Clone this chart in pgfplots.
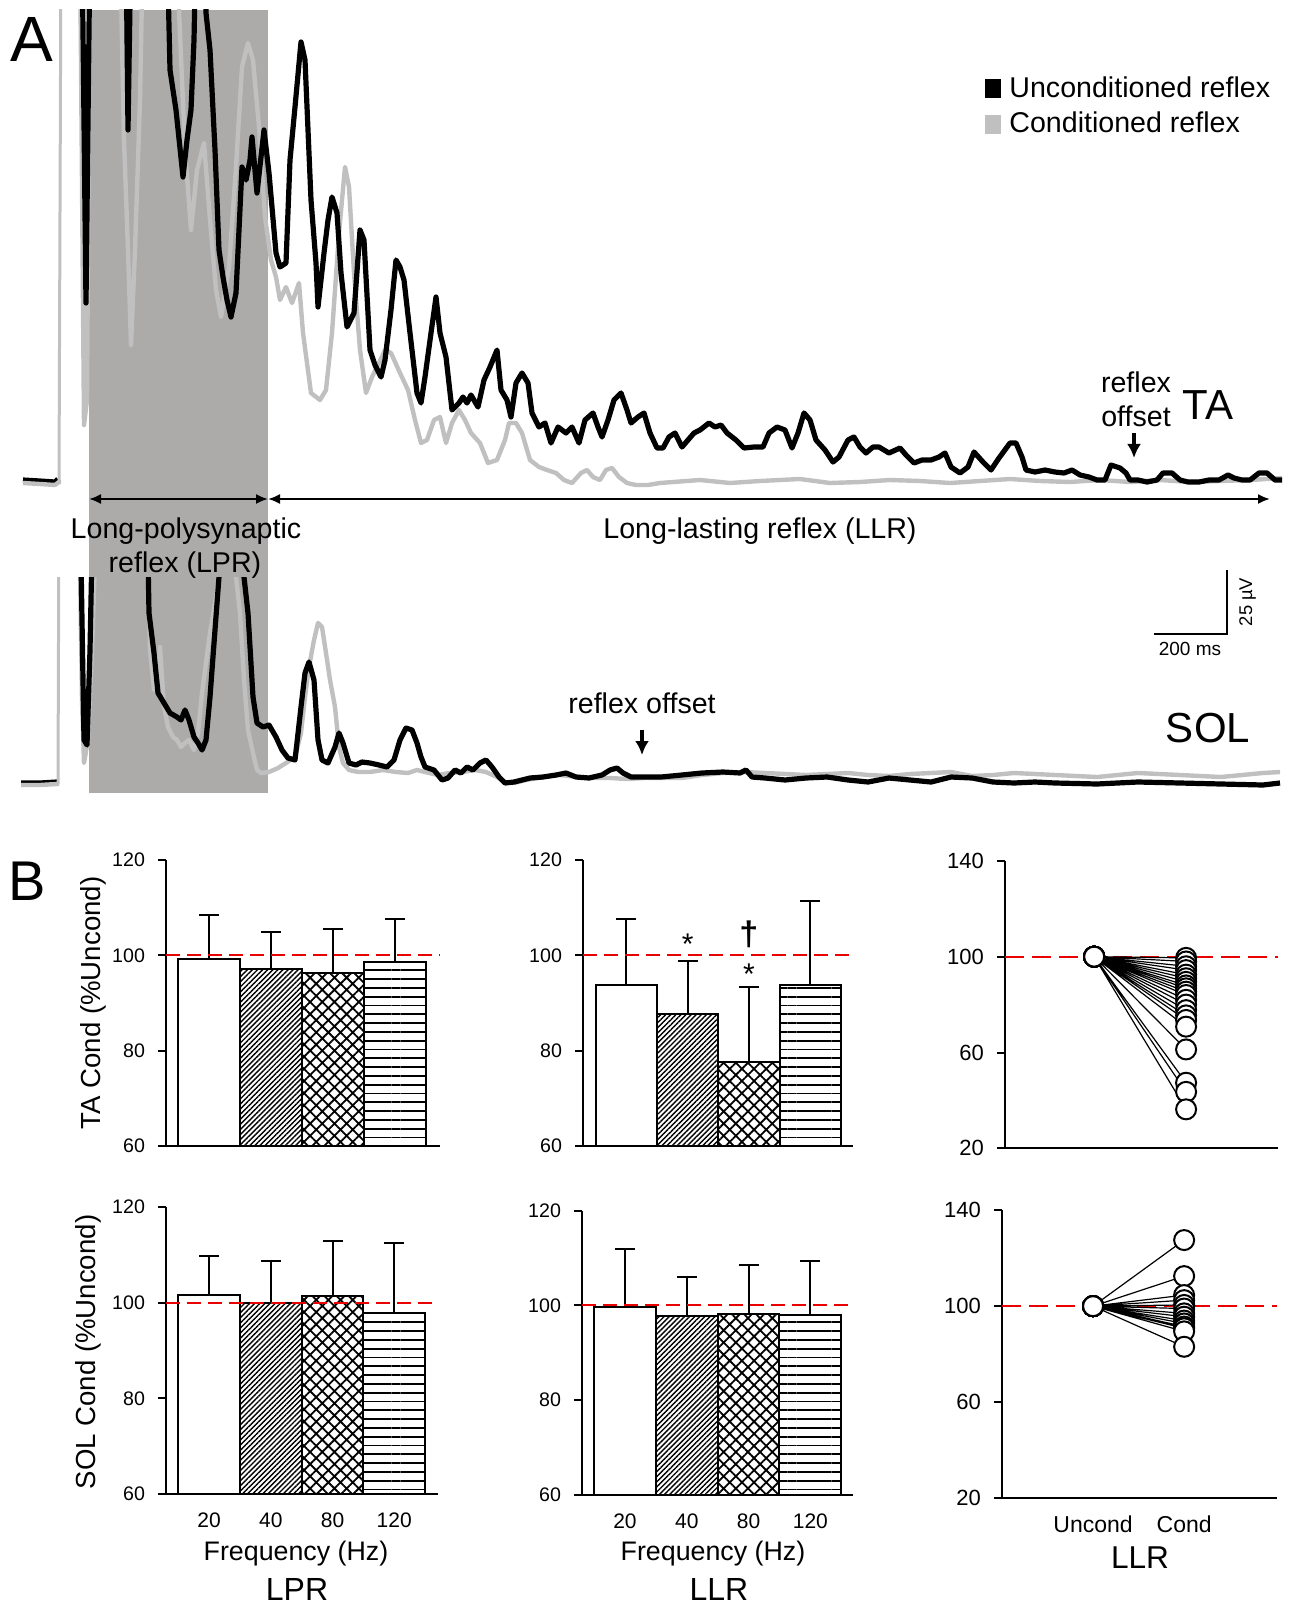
\documentclass[border=0pt]{standalone}
\usepackage{fontspec}
\setmainfont{Liberation Sans}
\usepackage{pgfplots}
\pgfplotsset{compat=1.18}
\usetikzlibrary{arrows.meta,patterns.meta}

\definecolor{condgray}{RGB}{192,192,192}
\definecolor{lprshade}{RGB}{173,170,170}
\definecolor{refred}{RGB}{235,0,0}
\newcommand\fs[1]{\fontsize{#1}{#1}\selectfont}

\pgfplotsset{
  trace/.style={scale only axis, width=645.5pt, xmin=0, xmax=1291, y dir=reverse, hide axis, anchor=center, unbounded coords=jump},
  uncond/.style={black, line width=2.6pt, line join=round},
  cond/.style={condgray, line width=2.2pt, line join=round},
  artifact/.style={condgray, line width=1.5pt},
  panel/.style={scale only axis, anchor=south west, axis lines=left, axis line style={-, line width=1pt},
    tick align=outside, major tick length=4pt, tick style={black, line width=1pt},
    xtick=\empty, /pgf/number format/assume math mode=true},
  barpanel/.style={panel, ymin=60, ymax=120, ytick={60,80,100,120}, yticklabel style={font=\fs{9.8}, xshift=-3pt}},
  indpanel/.style={panel, ymin=20, ymax=140, ytick={20,60,100,140}, yticklabel style={font=\fs{11}, xshift=-3pt}},
  freqticks/.style={xtick={1,2,3,4}, xticklabels={20,40,80,120}, xtick style={draw=none}, xticklabel style={font=\fs{10.5}, yshift=-2pt}},
  hzbar/.style={ybar, bar width=1, bar shift=0pt, draw=black, line width=1pt,
    error bars/y dir=plus, error bars/y explicit, error bars/error mark=|,
    error bars/error bar style={line width=1pt, black},
    error bars/error mark options={line width=1pt, black, mark size=5pt}},
  p20/.style={hzbar, fill=white},
  p40/.style={hzbar, pattern={Lines[angle=45,distance=1.8pt,line width=0.7pt]}},
  p80/.style={hzbar, pattern={Hatch[angle=45,distance=4.3pt,line width=0.9pt]}},
  p120/.style={hzbar, pattern={Lines[angle=0,distance=4.4pt,line width=0.9pt]}},
  line100/.style={refred, line width=1pt, dash pattern=on 7pt off 3.5pt},
  subj/.style={black, line width=0.6pt, unbounded coords=jump, mark=*, mark size=5pt,
    mark options={fill=white, draw=black, line width=1pt, solid}},
}

\begin{document}
\begin{tikzpicture}
\useasboundingbox (0,0) rectangle (645.5pt,-802pt);

\begin{scope}[x=0.5pt, y=-0.5pt]
  \fill[lprshade] (89,10) rectangle (268,793);
\end{scope}

% ---------- A: TA traces (pixel units, y downwards)
\begin{axis}[trace, height=245pt, ymin=10, ymax=500, at={(322.75pt,-127.5pt)}]
\addplot[uncond] coordinates {(23,480)(40,481)(55,482)(58,479)};
\addplot[artifact] coordinates {(59,482)(61,-60)};
\addplot[cond] coordinates {(23,483)(40,484)(55,485)(59,482)(61,482)(62,nan)(80,-60)(84,425)(87,400)(90,-60)(120,-60)(124,140)(128,250)(131,345)(135,250)(140,100)(143,-60)(176,-60)(185,150)(191,230)(197,170)(204,143)(210,220)(216,290)(221,317)(229,267)(236,167)(242,67)(248,43)(253,60)(259,127)(265,217)(271,260)(276,277)(280,300)(286,287)(292,303)(299,283)(303,333)(311,393)(320,400)(326,390)(332,333)(339,233)(345,167)(349,187)(354,273)(360,350)(366,393)(372,377)(379,363)(385,350)(391,353)(400,373)(408,390)(415,420)(421,443)(427,440)(434,420)(440,417)(446,443)(452,423)(459,410)(465,420)(471,433)(480,443)(488,463)(497,460)(505,440)(509,423)(516,423)(522,433)(530,460)(539,467)(547,470)(556,473)(564,480)(572,483)(581,473)(587,470)(593,477)(600,480)(606,470)(612,468)(619,477)(627,483)(636,485)(648,485)(660,483)(700,480)(730,483)(760,481)(800,479)(830,483)(860,482)(890,480)(920,481)(950,483)(980,481)(1010,479)(1040,481)(1070,482)(1100,480)(1130,482)(1160,480)(1190,482)(1220,481)(1250,480)(1282,478)};
\addplot[uncond] coordinates {(82,-60)(86,303)(90,-60)(126,-60)(128,130)(131,-60)(167,-60)(170,70)(176,110)(183,177)(187,140)(191,110)(194,40)(196,-60)(205,-60)(206,13)(210,50)(215,150)(219,250)(223,277)(227,300)(231,317)(236,293)(242,167)(246,180)(250,160)(252,137)(257,193)(264,130)(269,173)(276,253)(280,267)(286,263)(290,160)(295,107)(301,42)(305,60)(311,200)(316,263)(318,307)(324,253)(328,220)(332,197)(337,213)(341,273)(347,327)(354,313)(360,230)(364,240)(370,350)(375,365)(381,377)(385,360)(391,310)(396,260)(400,267)(404,280)(410,333)(417,393)(421,403)(425,377)(431,333)(436,297)(440,333)(446,357)(452,410)(459,403)(463,397)(467,403)(471,395)(478,407)(484,380)(490,367)(497,350)(501,390)(507,400)(511,417)(516,383)(522,373)(528,383)(532,413)(539,427)(545,423)(551,443)(558,427)(566,433)(572,427)(579,443)(585,420)(593,413)(598,427)(602,437)(608,420)(614,400)(621,393)(627,410)(631,423)(638,417)(644,413)(650,433)(657,448)(663,448)(669,437)(675,433)(682,447)(688,440)(694,433)(700,430)(709,423)(715,427)(721,425)(727,433)(736,440)(744,448)(754,447)(763,447)(769,433)(777,427)(785,430)(792,448)(798,433)(804,413)(810,420)(816,440)(825,450)(833,462)(839,457)(848,440)(854,437)(860,447)(866,453)(873,447)(879,447)(889,453)(900,448)(906,455)(914,463)(922,460)(931,460)(939,457)(945,453)(951,467)(960,473)(968,467)(974,452)(983,462)(991,470)(999,458)(1010,443)(1016,443)(1022,457)(1026,470)(1035,472)(1045,470)(1055,472)(1064,473)(1072,470)(1080,475)(1089,477)(1097,480)(1105,480)(1111,465)(1120,468)(1126,473)(1130,480)(1138,480)(1147,482)(1157,480)(1163,473)(1172,473)(1180,480)(1188,482)(1199,482)(1209,480)(1219,480)(1228,475)(1234,478)(1242,480)(1250,480)(1259,473)(1267,473)(1275,480)(1282,480)};
\end{axis}

% ---------- A: SOL traces
\begin{axis}[trace, height=111.5pt, ymin=577, ymax=800, at={(322.75pt,-344.25pt)}]
\addplot[uncond] coordinates {(21,783)(40,783)(57,782)};
\addplot[artifact] coordinates {(58,784)(59,500)};
\addplot[cond] coordinates {(21,785)(40,785)(57,784)(59,784)(60,nan)(79,500)(82,700)(84,763)(88,740)(92,650)(97,500)(147,500)(150,650)(154,690)(158,677)(160,647)(164,707)(168,727)(173,737)(177,740)(181,747)(185,743)(189,740)(194,750)(198,733)(202,693)(206,663)(210,633)(215,603)(219,580)(221,500)(234,500)(236,577)(240,613)(244,680)(248,730)(253,753)(257,770)(261,773)(269,772)(278,768)(286,763)(295,757)(301,733)(305,697)(309,667)(314,640)(318,623)(322,627)(326,653)(330,680)(335,707)(339,747)(343,763)(349,770)(358,772)(370,772)(383,770)(396,772)(408,773)(417,770)(425,772)(438,775)(450,773)(463,772)(475,770)(486,772)(497,777)(505,782)(514,783)(526,780)(543,777)(560,775)(577,777)(593,778)(610,778)(627,779)(644,778)(660,778)(682,778)(702,775)(723,773)(744,772)(765,773)(786,774)(806,775)(827,774)(848,773)(868,775)(889,776)(910,774)(931,773)(951,772)(972,776)(993,775)(1014,773)(1035,774)(1055,775)(1076,776)(1097,777)(1118,775)(1138,773)(1159,774)(1180,775)(1200,776)(1221,777)(1242,775)(1263,773)(1280,772)};
\addplot[uncond] coordinates {(80,500)(84,740)(87,745)(90,650)(93,500)(147,500)(149,613)(154,653)(158,693)(164,703)(170,713)(177,717)(181,720)(185,710)(189,720)(194,737)(198,743)(202,750)(206,740)(210,697)(215,630)(219,577)(221,500)(242,500)(244,577)(248,613)(253,697)(257,723)(263,727)(269,725)(276,737)(282,750)(288,758)(295,760)(301,707)(305,673)(309,662)(314,680)(318,740)(322,760)(328,763)(335,747)(339,733)(343,743)(349,763)(356,765)(362,762)(370,763)(379,765)(387,767)(394,760)(400,740)(406,728)(412,730)(417,743)(421,757)(425,767)(434,770)(442,780)(448,778)(455,770)(461,773)(467,767)(473,770)(480,763)(486,760)(492,767)(499,777)(505,783)(514,782)(522,780)(530,778)(543,777)(556,775)(566,773)(576,777)(589,778)(602,775)(610,770)(617,768)(623,773)(631,777)(644,777)(661,777)(682,775)(702,773)(723,772)(740,773)(746,770)(752,777)(765,778)(785,780)(806,778)(827,777)(848,780)(868,782)(889,778)(910,780)(931,782)(951,777)(972,778)(993,782)(1014,783)(1035,782)(1055,783)(1097,784)(1138,782)(1180,783)(1221,784)(1263,785)(1280,783)};
\end{axis}

% ---------- B: TA, LPR
\begin{axis}[barpanel, at={(83pt,-573pt)}, width=137pt, height=143pt, xmin=0.30, xmax=4.73]
\addplot[p20] coordinates {(1,99.2) +- (0,9.2)};
\addplot[p40] coordinates {(2,97.2) +- (0,7.7)};
\addplot[p80] coordinates {(3,96.2) +- (0,9.3)};
\addplot[p120] coordinates {(4,98.7) +- (0,9.0)};
\addplot[line100] coordinates {(0.30,100)(4.73,100)};
\end{axis}

% ---------- B: TA, LLR
\begin{axis}[barpanel, at={(291.5pt,-573pt)}, width=135pt, height=143pt, xmin=0.29, xmax=4.70]
\addplot[p20] coordinates {(1,93.8) +- (0,13.9)};
\addplot[p40] coordinates {(2,87.7) +- (0,11.2)};
\addplot[p80] coordinates {(3,77.7) +- (0,15.7)};
\addplot[p120] coordinates {(4,93.8) +- (0,17.5)};
\addplot[line100] coordinates {(0.29,100)(4.70,100)};
\node[font=\fs{15}] at (axis cs:2,102.3) {*};
\node[font=\bfseries\fs{17}] at (axis cs:3,104.4) {†};
\node[font=\fs{15}] at (axis cs:3,96.0) {*};
\end{axis}

% ---------- B: TA, individual LLR
\begin{axis}[indpanel, at={(502.5pt,-574.2pt)}, width=136.5pt, height=143.8pt, xmin=0.03, xmax=3]
\addplot[refred, line width=1pt, dash pattern=on 9.5pt off 4pt] coordinates {(0.03,100)(3,100)};
\addplot[subj] coordinates {(1,100)(2,99.5)(1,nan)(1,100)(2,98)(1,nan)(1,100)(2,96)(1,nan)(1,100)(2,94.4)(1,nan)(1,100)(2,92.5)(1,nan)(1,100)(2,91)(1,nan)(1,100)(2,89.5)(1,nan)(1,100)(2,88)(1,nan)(1,100)(2,86.8)(1,nan)(1,100)(2,85.4)(1,nan)(1,100)(2,84)(1,nan)(1,100)(2,82)(1,nan)(1,100)(2,80)(1,nan)(1,100)(2,77.7)(1,nan)(1,100)(2,75.5)(1,nan)(1,100)(2,73.6)(1,nan)(1,100)(2,70.8)(1,nan)(1,100)(2,61.3)(1,nan)(1,100)(2,47.4)(1,nan)(1,100)(2,43.6)(1,nan)(1,100)(2,36.3)};
\end{axis}

% ---------- B: SOL, LPR
\begin{axis}[barpanel, freqticks, at={(83pt,-747pt)}, width=136pt, height=143.5pt, xmin=0.30, xmax=4.71]
\addplot[p20] coordinates {(1,101.6) +- (0,8.2)};
\addplot[p40] coordinates {(2,100.0) +- (0,8.8)};
\addplot[p80] coordinates {(3,101.4) +- (0,11.5)};
\addplot[p120] coordinates {(4,97.8) +- (0,14.7)};
\addplot[line100] coordinates {(0.30,100)(4.71,100)};
\end{axis}

% ---------- B: SOL, LLR
\begin{axis}[barpanel, freqticks, at={(291pt,-747.5pt)}, width=135.5pt, height=142.2pt, xmin=0.305, xmax=4.69]
\addplot[p20] coordinates {(1,99.6) +- (0,12.3)};
\addplot[p40] coordinates {(2,97.8) +- (0,8.3)};
\addplot[p80] coordinates {(3,98.1) +- (0,10.4)};
\addplot[p120] coordinates {(4,97.9) +- (0,11.5)};
\addplot[line100] coordinates {(0.305,100)(4.69,100)};
\end{axis}

% ---------- B: SOL, individual LLR
\begin{axis}[indpanel, at={(501pt,-749.2pt)}, width=137.5pt, height=144.2pt, xmin=0.0, xmax=3.02,
  xtick={1,2}, xticklabels={Uncond,Cond}, xtick style={draw=none}, xticklabel style={font=\fs{11.5}, yshift=-1pt}]
\addplot[refred, line width=1pt, dash pattern=on 9.5pt off 4pt] coordinates {(0,100)(3.02,100)};
\addplot[subj] coordinates {(1,100)(2,127.5)(1,nan)(1,100)(2,112.5)(1,nan)(1,100)(2,104.6)(1,nan)(1,100)(2,102.5)(1,nan)(1,100)(2,100.5)(1,nan)(1,100)(2,99)(1,nan)(1,100)(2,97)(1,nan)(1,100)(2,95.6)(1,nan)(1,100)(2,94)(1,nan)(1,100)(2,92.8)(1,nan)(1,100)(2,91.5)(1,nan)(1,100)(2,90.8)(1,nan)(1,100)(2,89.5)(1,nan)(1,100)(2,83.1)};
\end{axis}

% ---------- annotations (pixel units)
\begin{scope}[x=0.5pt, y=-0.5pt, every node/.style={inner sep=0pt}]
  \node[font=\fs{32}, anchor=base] at (32,62) {A};
  \node[font=\fs{28}, anchor=base] at (27,900) {B};
  % legend
  \fill[black] (985,79) rectangle (1001,98);
  \fill[condgray] (985,115) rectangle (1001,134);
  \node[font=\fs{14.3}, anchor=base west] at (1009,98) {Unconditioned reflex};
  \node[font=\fs{14.3}, anchor=base west] at (1009,133) {Conditioned reflex};
  % TA labels
  \node[font=\fs{14.3}, anchor=base] at (1136,393) {reflex};
  \node[font=\fs{14.3}, anchor=base] at (1136,427) {offset};
  \draw[line width=1.6pt, -{Latex[length=7pt,width=7pt]}] (1134,433) -- (1134,458);
  \node[font=\fs{21}, anchor=base] at (1208,420) {TA};
  % epoch arrows
  \draw[line width=1pt, {Latex[length=6pt,width=5pt]}-{Latex[length=6pt,width=5pt]}] (89,499) -- (268,499);
  \draw[line width=1pt, {Latex[length=6pt,width=5pt]}-{Latex[length=6pt,width=5pt]}] (268,499) -- (1270,499);
  \node[font=\fs{14.3}, anchor=base] at (186,538) {Long-polysynaptic};
  \node[font=\fs{14.3}, anchor=base] at (185,572) {reflex (LPR)};
  \node[font=\fs{14.3}, anchor=base] at (760,538) {Long-lasting reflex (LLR)};
  % scale bar
  \draw[line width=1pt] (1154,634) -- (1227,634) -- (1227,570);
  \node[font=\fs{9.5}, anchor=base] at (1190,655) {200 ms};
  \node[font=\fs{9.2}, anchor=base, rotate=90] at (1252,602) {25 µV};
  % SOL labels
  \node[font=\fs{14.3}, anchor=base] at (642,713) {reflex offset};
  \draw[line width=1.6pt, -{Latex[length=7pt,width=7pt]}] (642,730) -- (642,755);
  \node[font=\fs{21}, anchor=base] at (1208,742) {SOL};
  % panel B axis titles
  \node[font=\fs{13.8}, rotate=90] at (93,1003) {TA Cond (\%Uncond)};
  \node[font=\fs{13.8}, rotate=90] at (88,1352) {SOL Cond (\%Uncond)};
  \node[font=\fs{13.4}, anchor=base] at (296,1560) {Frequency (Hz)};
  \node[font=\fs{13.4}, anchor=base] at (713,1560) {Frequency (Hz)};
  \node[font=\fs{16}, anchor=base] at (297,1600) {LPR};
  \node[font=\fs{16}, anchor=base] at (719,1600) {LLR};
  \node[font=\fs{15.8}, anchor=base] at (1140,1568) {LLR};
\end{scope}
\end{tikzpicture}
\end{document}
